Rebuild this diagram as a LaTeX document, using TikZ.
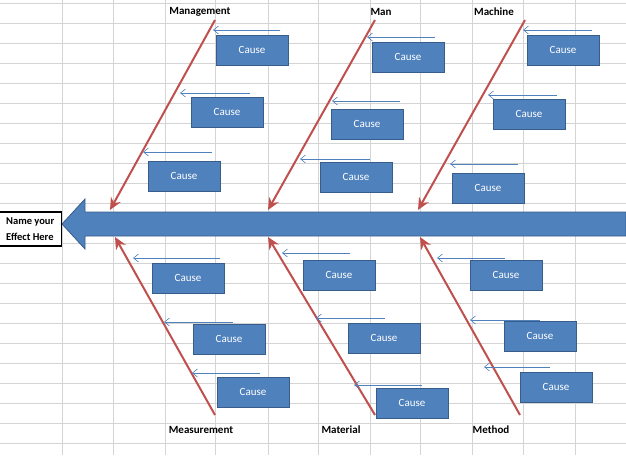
\documentclass[tikz,border=0pt]{standalone}
\usepackage{fontspec}
\setmainfont{Carlito}
\usetikzlibrary{arrows.meta}
\definecolor{CauseFill}{HTML}{4F81BD}
\definecolor{CauseLine}{HTML}{385D8A}
\definecolor{BoneRed}{HTML}{C0504D}
\definecolor{GridGray}{HTML}{D4D4D4}

\tikzset{
  causebox/.style={shape=rectangle, fill=CauseFill, draw=CauseLine, line width=1pt,
    minimum width=72pt, minimum height=30pt, text=white, font=\fontsize{11}{11}\selectfont},
  bone/.style={draw=BoneRed, line width=2pt, -{Stealth[length=12pt,width=11pt]}},
  feed/.style={draw=CauseFill, line width=0.6pt, -{Straight Barb[length=5pt,width=8pt]}},
  bonelabel/.style={font=\bfseries\fontsize{11}{11}\selectfont}
}

\begin{document}
\begin{tikzpicture}[x=1pt,y=-1pt]
    \path [use as bounding box] (0,0) rectangle (626,455);

    % sheet grid
    \foreach \gx in {62,113,165,215,268,318,370,420,472,523,575}
      \draw[GridGray, line width=0.5pt] (\gx,0) -- (\gx,455);
    \foreach \gy in {0,20,...,455}
      \draw[GridGray, line width=0.5pt] (0,\gy+3) -- (626,\gy+3);

    % spine
    \fill[CauseFill, draw=CauseLine, line width=0.8pt]
      (626,212) -- (85,212) -- (85,199) -- (62,224) -- (85,249) -- (85,236) -- (626,236) -- cycle;

    \node[name=effect, shape=rectangle, draw=black, line width=1.5pt, fill=white,
      align=left, minimum width=62pt, minimum height=34pt, inner sep=2pt,
      font=\bfseries\fontsize{10.5}{16}\selectfont, anchor=east] at (62,229) {Name your\\Effect Here};

    % bones
    \coordinate (mgmtTop) at (215,20);   \coordinate (mgmtEnd) at (110,210);
    \coordinate (manTop) at (375,20);    \coordinate (manEnd) at (268,210);
    \coordinate (machTop) at (525,20);   \coordinate (machEnd) at (418,210);
    \coordinate (measBot) at (215,415);  \coordinate (measEnd) at (115,237);
    \coordinate (matBot) at (375,415);   \coordinate (matEnd) at (268,237);
    \coordinate (methBot) at (520,415);  \coordinate (methEnd) at (420,237);

    \path (mgmtTop) edge[bone] (mgmtEnd);
    \path (manTop) edge[bone] (manEnd);
    \path (machTop) edge[bone] (machEnd);
    \path (measBot) edge[bone] (measEnd);
    \path (matBot) edge[bone] (matEnd);
    \path (methBot) edge[bone] (methEnd);

    \node[name=mgmt, bonelabel] at (200,12) {Management};
    \node[name=man, bonelabel] at (381,12) {Man};
    \node[name=mach, bonelabel] at (494,12) {Machine};
    \node[name=meas, bonelabel] at (201,430) {Measurement};
    \node[name=mat, bonelabel] at (341,430) {Material};
    \node[name=meth, bonelabel] at (491,430) {Method};

    % causes: box x, box y, feed y, feed start, feed end
    \foreach \n/\bx/\by/\fy/\fa/\fb in {
        c1/252/50/30/280/213, c2/227/112/93/250/180, c3/184/176/152/212/143,
        c4/408/57/37/435/367, c5/367/124/101/400/332, c6/356/177/159/370/300,
        c7/563/50/30/592/523, c8/529/114/95/557/488, c9/488/188/164/518/450,
        c10/188/278/258/220/133, c11/229/339/322/233/164, c12/253/392/373/260/192,
        c13/339/275/253/350/282, c14/384/338/318/385/316, c15/412/403/385/422/354,
        c16/506/275/258/505/437, c17/540/336/320/540/470, c18/556/387/367/550/484} {
      \node[name=\n, causebox] at (\bx,\by) {Cause};
      \coordinate (\n a) at (\fa,\fy);
      \coordinate (\n b) at (\fb,\fy);
      \path (\n a) edge[feed] (\n b);
    }
\end{tikzpicture}
\end{document}
